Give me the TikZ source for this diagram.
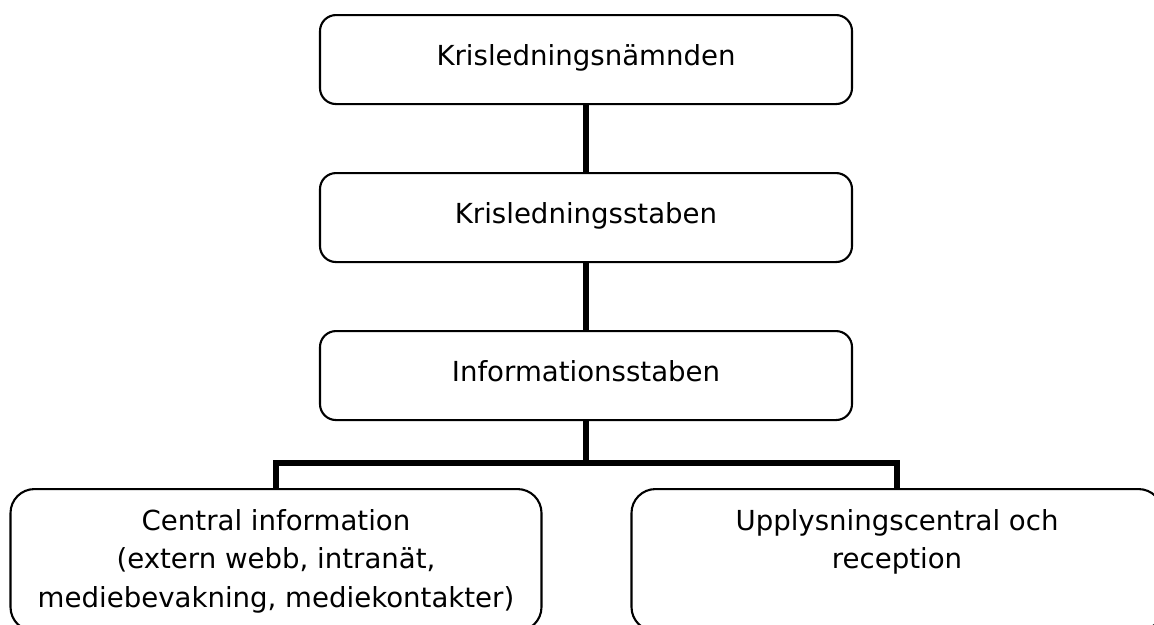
\documentclass[tikz,border=0pt]{standalone}
\usepackage{fontspec}
\setmainfont{DejaVu Sans}
\begin{document}
\begin{tikzpicture}[x=1pt,y=-1pt,
  box/.style={draw, line width=2.1pt, rounded corners=16pt, minimum width=532pt, minimum height=89pt, inner sep=0pt, anchor=north},
  lowbox/.style={box, rounded corners=24pt, minimum width=531pt, minimum height=142pt},
  conn/.style={line width=5.5pt, line join=miter},
  lbl/.style={font=\fontsize{27.6}{38.5}\selectfont, align=center, anchor=base, inner sep=0pt}]
\useasboundingbox (0,0) rectangle (1154,624);
\clip (0,0) rectangle (1154,624);
\node[box] (a) at (586,14) {};
\node[box] (b) at (586,172) {};
\node[box] (c) at (586,330) {};
\node[lowbox] (d) at (276,488) {};
\node[lowbox] (e) at (897,488) {};
\node[lbl] (ta) at (586,65) {Krisledningsnämnden};
\node[lbl] (tb) at (586,223) {Krisledningsstaben};
\node[lbl] (tc) at (586,381) {Informationsstaben};
\node[lbl] (td) at (276,607) {Central information\\(extern webb, intranät,\\mediebevakning, mediekontakter)};
\node[lbl] (te) at (897,568.5) {Upplysningscentral och\\reception};
\coordinate (j) at (586,463);
\draw[conn] (a.south) -- (b.north);
\draw[conn] (b.south) -- (c.north);
\draw[conn] (c.south) -- (j);
\draw[conn] (d.north) |- (j) -| (e.north);
\end{tikzpicture}
\end{document}
